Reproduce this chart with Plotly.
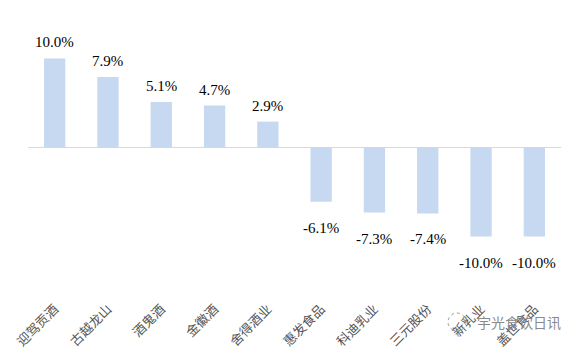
import plotly.graph_objects as go

categories = ["迎驾贡酒", "古越龙山", "酒鬼酒", "金徽酒", "舍得酒业",
              "惠发食品", "科迪乳业", "三元股份", "新乳业", "盖世食品"]
values = [10.0, 7.9, 5.1, 4.7, 2.9, -6.1, -7.3, -7.4, -10.0, -10.0]
labels = [f"{v:.1f}%" for v in values]

W, H = 566, 347
L, R, T, B = 20, 13, 29, 65
pw, ph = W - L - R, H - T - B

fig = go.Figure(go.Bar(
    x=categories, y=values,
    marker=dict(color="#c6d9f0", line=dict(width=0)),
    cliponaxis=False, hoverinfo="x+y",
))

annotations = [
    dict(x=c, y=v, text=t, xref="x", yref="y", showarrow=False,
         xanchor="center", yanchor="middle", yshift=16 if v > 0 else -26,
         font=dict(family="Liberation Serif", size=15, color="#000000"))
    for c, v, t in zip(categories, values, labels)
]
annotations.append(dict(text="宇光食饮日讯", x=(511 - L) / pw, y=(H - B - 314) / ph,
                        xref="paper", yref="paper", xanchor="center", yanchor="middle",
                        showarrow=False,
                        font=dict(family="Noto Sans CJK SC", size=14, color="#8a8a8a")))

fig.update_layout(
    width=W, height=H,
    margin=dict(l=L, r=R, t=T, b=B, autoexpand=False),
    paper_bgcolor="white", plot_bgcolor="white",
    bargap=0.6, showlegend=False,
    xaxis=dict(showline=False, showgrid=False, ticks="", tickangle=-45, automargin=False,
               ticklabelstandoff=8,
               tickfont=dict(family="Noto Sans CJK SC", size=13, color="#555555")),
    yaxis=dict(range=[-16, 12.4], showgrid=False, showticklabels=False, automargin=False,
               zeroline=True, zerolinecolor="#d9d9d9", zerolinewidth=1, ticks=""),
    annotations=annotations,
    shapes=[dict(type="circle", xref="paper", yref="paper",
                 x0=(440 - L) / pw, x1=(458 - L) / pw,
                 y0=(H - B - 323) / ph, y1=(H - B - 305) / ph,
                 line=dict(color="#9a9a9a", width=1, dash="dot"))],
)

fig.write_html("out.html")
